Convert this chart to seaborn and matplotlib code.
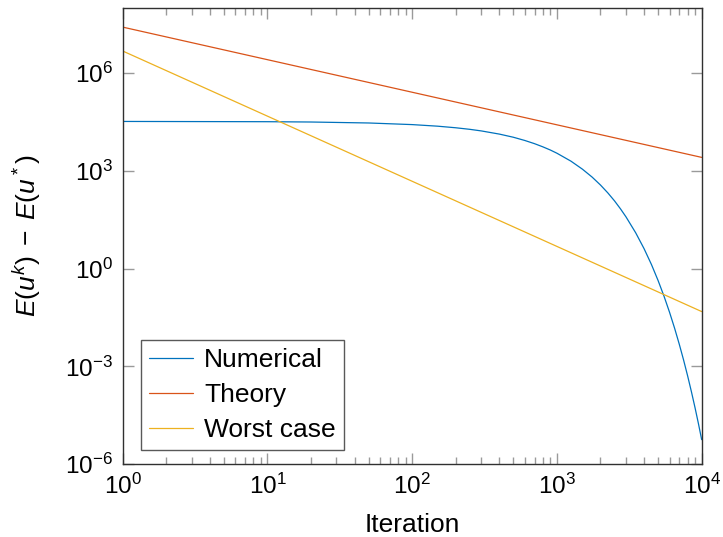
import numpy as np
import pandas as pd
import matplotlib
matplotlib.use("Agg")
import matplotlib.pyplot as plt
import matplotlib.ticker as mticker
import seaborn as sns

# values
iters_num = [1, 10, 20, 50, 100, 150, 200, 250, 300, 400, 500, 600, 700, 800, 900,
             1000, 1250, 1500, 1750, 2000, 2250, 2500, 2750, 3000, 3500, 4000, 4500,
             5000, 5500, 6000, 6500, 7000, 7500, 8000, 8500, 9000, 9500, 10000]
numerical = [3.3e4, 3.24e4, 3.17e4, 2.96e4, 2.64e4, 2.36e4, 2.11e4, 1.89e4, 1.69e4,
             1.35e4, 1.08e4, 8.59e3, 6.86e3, 5.47e3, 4.38e3, 3.49e3, 1.99e3, 1.13e3,
             646, 368, 210, 120, 68.1, 38.8, 12.6, 4.09, 1.33, 0.43, 0.14, 0.0455,
             0.0148, 4.8e-3, 1.56e-3, 5.06e-4, 1.64e-4, 5.33e-5, 1.73e-5, 5.6e-6]

iters_ref = [1, 10, 100, 1000, 10000]
theory = [2.6e7, 2.6e6, 2.6e5, 2.6e4, 2.6e3]
worst = [4.8e6, 4.8e4, 480, 4.8, 0.048]

labels = ["Numerical", "Theory", "Worst case"]
colors = ["#0072BD", "#D95319", "#EDB120"]

df = pd.concat([
    pd.DataFrame({"k": iters_num, "err": numerical, "name": labels[0]}),
    pd.DataFrame({"k": iters_ref, "err": theory, "name": labels[1]}),
    pd.DataFrame({"k": iters_ref, "err": worst, "name": labels[2]}),
])

sns.set_style("ticks")
plt.rcParams["font.family"] = ["Liberation Sans", "DejaVu Sans"]
plt.rcParams["mathtext.fontset"] = "custom"
plt.rcParams["mathtext.rm"] = "Liberation Sans"
plt.rcParams["mathtext.it"] = "Liberation Sans:italic"
plt.rcParams["mathtext.sf"] = "Liberation Sans"
plt.rcParams["text.color"] = "black"
plt.rcParams["axes.labelcolor"] = "black"
plt.rcParams["xtick.labelcolor"] = "black"
plt.rcParams["ytick.labelcolor"] = "black"

fig = plt.figure(figsize=(7.23, 5.37), dpi=100)
ax = fig.add_axes([0.1697, 0.1359, 0.8008, 0.8491])

sns.lineplot(data=df, x="k", y="err", hue="name", palette=colors,
             hue_order=labels, linewidth=0.9, ax=ax, sort=False)

ax.set_xscale("log")
ax.set_yscale("log")
ax.set_xlim(1, 1e4)
ax.set_ylim(1e-6, 1e8)
ax.set_yticks([1e-6, 1e-3, 1e0, 1e3, 1e6])
ax.yaxis.set_minor_locator(mticker.NullLocator())
ax.xaxis.set_major_locator(mticker.LogLocator(base=10, numticks=10))
ax.xaxis.set_minor_locator(mticker.LogLocator(base=10, subs=np.arange(2, 10), numticks=20))
ax.xaxis.set_minor_formatter(mticker.NullFormatter())

ax.tick_params(which="both", direction="in", top=True, right=True,
               color="#9a9a9a", labelcolor="black", labelsize=17.5, width=1.0)
ax.tick_params(which="major", length=8, pad=7)
ax.tick_params(which="minor", length=5)
for s in ax.spines.values():
    s.set_color("#303030")
    s.set_linewidth(1.0)

ax.set_xlabel("Iteration", fontsize=19, labelpad=10, color="black")
ax.set_ylabel(r"$E(u^k)\;-\;E(u^*)$", fontsize=19, labelpad=16, color="black")

leg = ax.legend(loc="lower left", bbox_to_anchor=(0.031, 0.03), borderaxespad=0,
                fontsize=19, frameon=True, fancybox=False, handlelength=1.7,
                labelspacing=0.42, borderpad=0.3, handletextpad=0.4)
leg.get_frame().set_edgecolor("#303030")
leg.get_frame().set_linewidth(1.0)
for t in leg.get_texts():
    t.set_color("black")
leg.set_title(None)

fig.savefig("out.png", dpi=100)
